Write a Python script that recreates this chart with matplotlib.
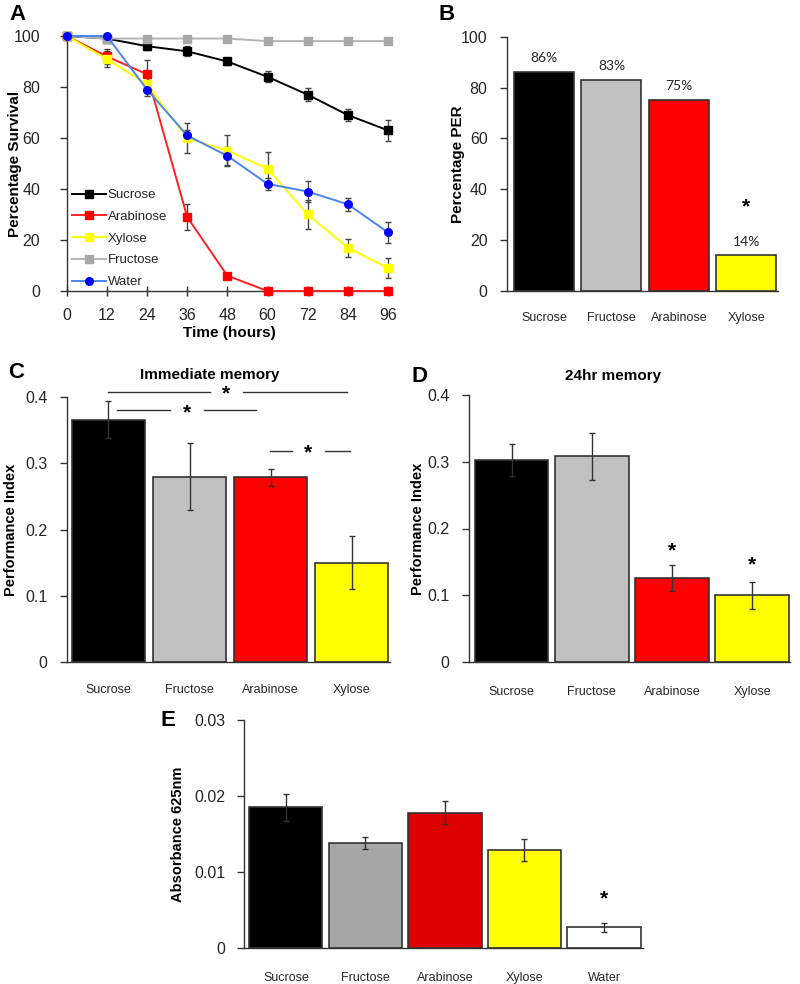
import matplotlib
matplotlib.use("Agg")
import matplotlib.pyplot as plt
import numpy as np

plt.rcParams['font.family'] = ['Liberation Sans', 'DejaVu Sans']

# ---------------- data ----------------
hours = [0, 12, 24, 36, 48, 60, 72, 84, 96]
surv_sucrose = [100, 99, 96, 94, 90, 84, 77, 69, 63]
surv_sucrose_err = [0, 1, 1.5, 2, 1.2, 2.2, 2.5, 2.5, 4.2]
surv_arabinose = [100, 92, 85, 29, 6, 0, 0, 0, 0]
surv_arabinose_err = [0, 3, 5.5, 5, 1.2, 0, 0, 0, 0]
surv_xylose = [100, 91, 81, 60, 55, 48, 30, 17, 9]
surv_xylose_err = [0, 3, 3, 6, 6, 6.5, 5.5, 3.5, 4]
surv_fructose = [100, 99, 99, 99, 99, 98, 98, 98, 98]
surv_fructose_err = [0, 0.5, 0.5, 0.5, 0.5, 0.5, 0.5, 0.5, 1.3]
surv_water = [100, 100, 79, 61, 53, 42, 39, 34, 23]
surv_water_err = [0, 0, 2.5, 2, 3.5, 2.5, 4, 2.5, 4.2]

per_labels = ['Sucrose', 'Fructose', 'Arabinose', 'Xylose']
per_values = [86, 83, 75, 14]

mem_labels = ['Sucrose', 'Fructose', 'Arabinose', 'Xylose']
imm_values = [0.366, 0.280, 0.279, 0.150]
imm_err = [0.028, 0.050, 0.013, 0.040]
day_values = [0.302, 0.308, 0.126, 0.100]
day_err = [0.024, 0.035, 0.019, 0.020]

abs_labels = ['Sucrose', 'Fructose', 'Arabinose', 'Xylose', 'Water']
abs_values = [0.0185, 0.0138, 0.0178, 0.0129, 0.0027]
abs_err = [0.0018, 0.0008, 0.0015, 0.0015, 0.0006]

# ---------------- layout helpers ----------------
W, H = 800, 984
fig = plt.figure(figsize=(8, 9.84), dpi=100)
TXT = '#262626'
EDGE = '#333333'


def add_ax(l, t, r, b):
    return fig.add_axes([l / W, 1 - b / H, (r - l) / W, (b - t) / H])


def style(ax, l, r, ylabel, label_right_px, tick_fs=11.5, ylab_fs=10.5):
    for s in ['top', 'right']:
        ax.spines[s].set_visible(False)
    for s in ['left', 'bottom']:
        ax.spines[s].set_color(EDGE)
        ax.spines[s].set_linewidth(1.0)
    ax.tick_params(axis='y', direction='out', length=5, width=1, color=EDGE,
                   labelsize=tick_fs, labelcolor=TXT, pad=9)
    ax.set_ylabel(ylabel, fontsize=ylab_fs, fontweight='bold', color='black')
    ax.yaxis.set_label_coords((label_right_px - l) / (r - l), 0.5)


def ptext(x, y, s, **kw):
    fig.text(x / W, 1 - y / H, s, ha='center', va='center', **kw)


# ---------------- Panel A ----------------
lA, tA, rA, bA = 66.7, 36, 392, 291
axA = add_ax(lA, tA, rA, bA)
series = [
    ('Sucrose', surv_sucrose, surv_sucrose_err, '#000000', '#000000', 's'),
    ('Arabinose', surv_arabinose, surv_arabinose_err, '#ff2020', '#ff0000', 's'),
    ('Xylose', surv_xylose, surv_xylose_err, '#ffff00', '#ffff00', 's'),
    ('Fructose', surv_fructose, surv_fructose_err, '#b4b4b4', '#a8a8a8', 's'),
    ('Water', surv_water, surv_water_err, '#4a86e8', '#0000ff', 'o'),
]
for name, vals, err, lc, mc, mk in series:
    axA.errorbar(hours, vals, yerr=err, fmt='none', ecolor='#444444',
                 elinewidth=1, capsize=2.5, capthick=1, zorder=2, clip_on=False)
for name, vals, err, lc, mc, mk in series:
    axA.plot(hours, vals, color=lc, lw=1.4, marker=mk, markersize=5.5,
             markerfacecolor=mc, markeredgecolor=mc, label=name, zorder=3,
             clip_on=False)
axA.set_xlim(0, 97.2)
axA.set_ylim(0, 100)
axA.set_xticks(hours)
axA.set_yticks([0, 20, 40, 60, 80, 100])
style(axA, lA, rA, 'Percentage Survival', 22, tick_fs=11.5, ylab_fs=11)
axA.tick_params(axis='y', pad=14)
axA.tick_params(axis='x', direction='inout', length=7, width=1, color=EDGE,
                labelsize=11.5, labelcolor=TXT, pad=9)
axA.set_xlabel('Time (hours)', fontsize=11, fontweight='bold', labelpad=2)
leg = axA.legend(loc='upper left', bbox_to_anchor=(0.016, 0.40), frameon=False,
                 fontsize=9.5, handlelength=2.6, handletextpad=0.1,
                 labelspacing=0.72, borderpad=0, borderaxespad=0)
for t in leg.get_texts():
    t.set_color(TXT)

# ---------------- Panel B ----------------
lB, tB, rB, bB = 507, 36.7, 778, 291
axB = add_ax(lB, tB, rB, bB)
xB = np.arange(len(per_labels))
colsB = ['#000000', '#c0c0c0', '#ff0000', '#ffff00']
axB.bar(xB, per_values, width=0.89, color=colsB, edgecolor=EDGE, linewidth=1.2)
for xi, v in zip(xB, per_values):
    axB.annotate(f'{v}%', (xi, v), xytext=(0, 10), textcoords='offset points',
                 ha='center', va='center', fontsize=10, family=['Lato', 'DejaVu Sans'],
                 color=TXT)
axB.text(3, 33, '*', ha='center', va='center', fontsize=15, fontweight='bold')
axB.set_xlim(-0.55, 3.47)
axB.set_ylim(0, 100)
axB.set_yticks([0, 20, 40, 60, 80, 100])
axB.set_xticks(xB)
axB.set_xticklabels(per_labels)
style(axB, lB, rB, 'Percentage PER', 465, tick_fs=11.5, ylab_fs=11)
axB.tick_params(axis='x', length=0, labelsize=9, labelcolor=TXT, pad=15)

# ---------------- Panel C ----------------
lC, tC, rC, bC = 66.7, 397, 390, 662
axC = add_ax(lC, tC, rC, bC)
xC = np.arange(len(mem_labels))
colsC = ['#000000', '#c0c0c0', '#ff0000', '#ffff00']
axC.bar(xC, imm_values, width=0.9, color=colsC, edgecolor=EDGE, linewidth=1.2)
axC.errorbar(xC, imm_values, yerr=imm_err, fmt='none', ecolor='#333333',
             elinewidth=1, capsize=2.5, capthick=1)
axC.set_xlim(-0.516, 3.475)
axC.set_ylim(0, 0.4)
axC.set_yticks([0, 0.1, 0.2, 0.3, 0.4])
axC.set_yticklabels(['0', '0.1', '0.2', '0.3', '0.4'])
axC.set_xticks(xC)
axC.set_xticklabels(mem_labels)
style(axC, lC, rC, 'Performance Index', 18.5)
axC.tick_params(axis='x', length=0, labelsize=9, labelcolor=TXT, pad=16)
# significance brackets
for (x0, x1, xs, x2, x3, y) in [(0.0, 1.25, 1.45, 1.66, 2.95, 0.408),
                                (0.105, 0.76, 0.97, 1.18, 1.82, 0.380),
                                (1.99, 2.26, 2.46, 2.67, 2.98, 0.319)]:
    axC.plot([x0, x1], [y, y], color='#333333', lw=1, clip_on=False)
    axC.plot([x2, x3], [y, y], color='#333333', lw=1, clip_on=False)
    axC.text(xs, y - 0.004, '*', ha='center', va='center', fontsize=15,
             fontweight='bold', clip_on=False)
ptext(210, 375, 'Immediate memory', fontsize=11, fontweight='bold')

# ---------------- Panel D ----------------
lD, tD, rD, bD = 469, 395, 790, 662
axD = add_ax(lD, tD, rD, bD)
axD.bar(xC, day_values, width=0.92, color=colsC, edgecolor=EDGE, linewidth=1.2)
axD.errorbar(xC, day_values, yerr=day_err, fmt='none', ecolor='#333333',
             elinewidth=1, capsize=2.5, capthick=1)
for xi, ys in [(2, 0.171), (3, 0.150)]:
    axD.text(xi, ys - 0.004, '*', ha='center', va='center', fontsize=15,
             fontweight='bold')
axD.set_xlim(-0.53, 3.47)
axD.set_ylim(0, 0.4)
axD.set_yticks([0, 0.1, 0.2, 0.3, 0.4])
axD.set_yticklabels(['0', '0.1', '0.2', '0.3', '0.4'])
axD.set_xticks(xC)
axD.set_xticklabels(mem_labels)
style(axD, lD, rD, 'Performance Index', 425)
axD.tick_params(axis='x', length=0, labelsize=9, labelcolor=TXT, pad=17)
ptext(613, 376, '24hr memory', fontsize=11, fontweight='bold')

# ---------------- Panel E ----------------
lE, tE, rE, bE = 244.5, 720, 643, 948
axE = add_ax(lE, tE, rE, bE)
xE = np.arange(len(abs_labels))
colsE = ['#000000', '#a6a6a6', '#dd0000', '#ffff00', '#ffffff']
axE.bar(xE, abs_values, width=0.92, color=colsE, edgecolor=EDGE, linewidth=1.2)
axE.errorbar(xE, abs_values, yerr=abs_err, fmt='none', ecolor='#333333',
             elinewidth=1, capsize=2.5, capthick=1)
axE.text(4, 0.0064, '*', ha='center', va='center', fontsize=15, fontweight='bold')
axE.set_xlim(-0.52, 4.49)
axE.set_ylim(0, 0.03)
axE.set_yticks([0, 0.01, 0.02, 0.03])
axE.set_yticklabels(['0', '0.01', '0.02', '0.03'])
axE.set_xticks(xE)
axE.set_xticklabels(abs_labels)
style(axE, lE, rE, 'Absorbance 625nm', 185)
axE.tick_params(axis='x', length=0, labelsize=9, labelcolor=TXT, pad=17)

# ---------------- panel letters ----------------
for (x, y, s) in [(18, 14, 'A'), (447, 14, 'B'), (16, 372, 'C'), (419, 377, 'D'),
                  (168, 721, 'E')]:
    ptext(x, y, s, fontsize=16, fontweight='bold')

fig.savefig('out.png', dpi=100)
